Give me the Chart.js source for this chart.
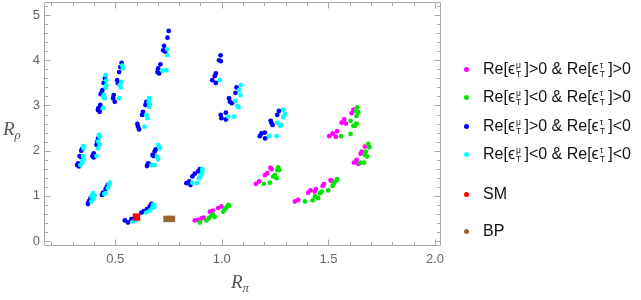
<!DOCTYPE html>
<html><head><meta charset="utf-8">
<script src="https://cdn.jsdelivr.net/npm/chart.js@4.4.1/dist/chart.umd.min.js"></script>
<style>
html,body{margin:0;padding:0;background:#fff;}
#wrap{position:relative;width:641px;height:300px;overflow:hidden;background:#fff;}
#c{position:absolute;left:0;top:0;}
.title{position:absolute;font-family:'Liberation Serif','Times New Roman',serif;font-style:italic;font-size:19px;color:#555;line-height:19px;white-space:nowrap;}
.title .s{font-size:13px;position:relative;top:4px;}
.legend{position:absolute;left:0;top:0;font-family:'Liberation Sans',Arial,sans-serif;font-size:16px;color:#111;}
.row{position:absolute;left:464px;height:20px;line-height:20px;white-space:nowrap;}
.dot{position:absolute;left:0;top:7.5px;width:5px;height:5px;border-radius:50%;}
.txt{position:absolute;left:19px;top:0;}
.ss{display:inline-block;position:relative;width:9.5px;height:20px;vertical-align:top;}
.ss .u{position:absolute;left:1px;top:2px;font-size:8.5px;line-height:8px;}
.ss .d{position:absolute;left:1px;top:11px;font-size:8.5px;line-height:8px;}
</style></head>
<body>
<div id="wrap">
<canvas id="c" width="641" height="300"></canvas>
<div class="title" style="left:231px;top:272px;">R<span class="s">π</span></div>
<div class="title" style="left:3px;top:119px;">R<span class="s">ρ</span></div>
<div class="legend" id="legend"></div>
</div>
<script>
// ---- data ----
const xTicks = [0.5, 1.0, 1.5, 2.0];
const yTicks = [0, 1, 2, 3, 4, 5];
const xRange = [0.166, 2.028];
const yRange = [-0.11, 5.29];

const magentaPts = [
[0.873,0.455],[0.889,0.47],[0.905,0.50],[0.915,0.515],[0.944,0.65],[0.959,0.675],[0.983,0.73],[0.998,0.765],
[1.160,1.265],[1.175,1.32],[1.202,1.46],[1.213,1.50],[1.233,1.59],[1.228,1.62],
[1.343,0.875],[1.358,0.91],[1.405,1.07],[1.416,1.12],[1.436,1.095],[1.441,1.15],[1.473,1.22],[1.479,1.26],[1.510,1.35],[1.515,1.33],
[1.504,2.32],[1.520,2.38],[1.535,2.31],[1.541,2.43],[1.562,2.62],[1.574,2.69],[1.582,2.60],[1.609,2.83],[1.617,2.91],
[1.620,1.735],[1.632,1.795],[1.640,1.71],[1.651,1.93],[1.656,1.98],[1.671,2.09]
];
const greenPts = [
[0.897,0.41],[0.928,0.455],[0.940,0.51],[0.952,0.56],[0.959,0.58],[0.967,0.53],[1.006,0.65],[1.014,0.705],[1.022,0.75],[1.030,0.80],[1.034,0.78],
[1.197,1.265],[1.225,1.29],[1.241,1.43],[1.249,1.46],[1.257,1.39],[1.260,1.57],[1.264,1.63],[1.270,1.57],
[1.390,0.875],[1.426,0.90],[1.437,0.985],[1.452,0.95],[1.460,1.06],[1.468,1.095],[1.499,1.12],[1.520,1.22],[1.526,1.28],[1.538,1.34],[1.541,1.37],
[1.559,2.32],[1.604,2.66],[1.604,2.37],[1.617,2.55],[1.625,2.55],[1.632,2.60],[1.629,2.88],[1.635,2.96],[1.640,2.85],[1.632,2.77],
[1.651,1.735],[1.667,1.735],[1.671,1.905],[1.682,1.87],[1.676,1.98],[1.687,2.15],[1.692,2.075]
];
const bluePts = [
[0.321,1.68],[0.330,1.65],[0.326,1.72],[0.333,1.88],[0.341,1.85],[0.341,2.00],[0.345,2.04],
[0.372,0.82],[0.377,0.88],[0.384,0.95],[0.392,1.00],
[0.399,1.94],[0.393,1.88],[0.399,1.85],[0.412,2.13],[0.416,2.20],[0.420,2.27],
[0.419,2.90],[0.427,2.86],[0.421,2.94],[0.430,3.01],[0.432,3.25],[0.440,3.34],[0.437,3.29],[0.446,3.50],[0.452,3.60],
[0.438,1.02],[0.443,1.07],[0.455,1.15],[0.461,1.20],[0.466,1.24],
[0.490,3.16],[0.498,3.08],[0.493,3.23],[0.509,3.56],[0.513,3.49],[0.518,3.74],[0.524,3.85],[0.530,3.94],
[0.545,0.455],[0.560,0.41],[0.576,0.485],[0.590,0.50],[0.623,0.63],[0.634,0.66],[0.649,0.705],[0.662,0.765],[0.670,0.82],
[0.607,2.53],[0.612,2.47],[0.604,2.59],[0.626,2.79],[0.630,2.86],[0.642,3.01],[0.646,3.08],
[0.654,1.72],[0.649,1.66],[0.660,1.70],[0.675,1.905],[0.680,1.88],[0.685,1.98],[0.690,2.03],
[0.698,3.74],[0.706,3.71],[0.701,3.82],[0.712,3.91],[0.725,4.22],[0.729,4.32],[0.735,4.19],[0.745,4.50],[0.751,4.65],
[0.834,1.28],[0.847,1.32],[0.853,1.24],[0.862,1.43],[0.873,1.49],[0.889,1.54],[0.897,1.59],
[0.955,3.56],[0.967,3.65],[0.972,3.71],[0.972,3.50],[0.987,4.00],[0.995,3.98],[0.994,4.11],
[0.995,2.79],[0.998,2.72],[1.019,2.84],[1.019,2.69],[1.038,3.08],[1.034,3.16],[1.047,3.05],[1.064,3.28],[1.069,3.40],
[1.178,2.32],[1.186,2.38],[1.202,2.40],[1.203,2.27],[1.229,2.66],[1.238,2.57],[1.233,2.61],[1.260,2.79],[1.268,2.88]
];
const cyanPts = [
[0.349,2.10],[0.352,2.05],[0.349,1.88],[0.352,1.81],[0.346,1.78],[0.337,1.68],[0.345,1.72],
[0.388,0.985],[0.396,1.06],[0.399,0.93],[0.388,0.875],[0.402,1.01],
[0.424,2.35],[0.427,2.30],[0.427,2.13],[0.419,2.05],[0.412,1.88],[0.420,2.20],
[0.443,2.94],[0.443,3.19],[0.451,3.16],[0.455,3.67],[0.458,3.45],[0.455,3.40],[0.447,3.24],[0.458,3.55],
[0.474,1.29],[0.471,1.25],[0.466,1.17],[0.455,1.06],[0.449,1.04],
[0.518,3.16],[0.521,3.45],[0.529,3.52],[0.537,3.82],[0.526,3.40],[0.533,3.88],
[0.584,0.43],[0.600,0.47],[0.677,0.80],[0.674,0.73],[0.662,0.675],[0.646,0.63],[0.681,0.75],[0.683,0.79],
[0.638,2.53],[0.646,2.79],[0.651,2.72],[0.657,3.08],[0.659,2.97],[0.659,3.16],[0.663,3.02],
[0.701,2.13],[0.709,2.05],[0.696,1.87],[0.701,1.81],[0.670,1.68],[0.685,1.68],[0.706,2.09],
[0.722,3.77],[0.740,3.78],[0.745,4.24],[0.745,4.11],
[0.862,1.29],[0.884,1.28],[0.893,1.39],[0.900,1.43],[0.909,1.54],[0.909,1.59],[0.906,1.49],
[0.991,3.56],
[1.030,2.75],[1.058,2.75],[1.064,3.10],[1.073,2.99],[1.079,2.96],[1.081,3.34],[1.088,3.23],[1.089,3.45],
[1.222,2.32],[1.257,2.32],[1.261,2.62],[1.272,2.55],[1.280,2.57],[1.288,2.91],[1.296,2.81],[1.288,2.74]
];
const smPts = [[0.600, 0.53]];
const bpPts = [[0.741, 0.49], [0.7535, 0.49], [0.766, 0.49]];

const legendItems = [
  {color:'#ff00ff', s1:'>0', s2:'>0'},
  {color:'#00e600', s1:'<0', s2:'>0'},
  {color:'#0000ff', s1:'>0', s2:'<0'},
  {color:'#00ffff', s1:'<0', s2:'<0'}
];

// ---- legend (HTML text) ----
const lg = document.getElementById('legend');
const rowY = [69, 97, 126, 154];
legendItems.forEach((it, i) => {
  const r = document.createElement('div');
  r.className = 'row'; r.style.top = (rowY[i] - 10) + 'px';
  r.innerHTML = '<span class="dot" style="background:' + it.color + '"></span>' +
    '<span class="txt">Re[ϵ<span class="ss"><span class="u">μ</span><span class="d">T</span></span>]' + it.s1 +
    ' &amp; Re[ϵ<span class="ss"><span class="u">τ</span><span class="d">T</span></span>]' + it.s2 + '</span>';
  lg.appendChild(r);
});
[['SM','#ff0000',194],['BP','#996633',231]].forEach(([t,c,y]) => {
  const r = document.createElement('div');
  r.className = 'row'; r.style.top = (y - 10) + 'px';
  r.innerHTML = '<span class="dot" style="background:' + c + '"></span><span class="txt">' + t + '</span>';
  lg.appendChild(r);
});

// ---- frame / tick marks plugin ----
const framePlugin = {
  id: 'frame',
  beforeDatasetsDraw(chart) {
    const {ctx, chartArea: a, scales: {x, y}} = chart;
    const L = Math.round(a.left) + 0.5, R = Math.round(a.right) - 0.5;
    const T = Math.round(a.top) + 0.5, B = Math.round(a.bottom) - 0.5;
    ctx.save();
    ctx.strokeStyle = '#a9a9a9';
    ctx.lineWidth = 1;
    ctx.beginPath();
    ctx.rect(L, T, R - L, B - T);
    ctx.stroke();
    ctx.beginPath();
    for (let i = 2; i <= 20; i++) {
      const v = i / 10;
      const major = (i % 5 === 0);
      const len = major ? 6 : 3.5;
      const px = Math.round(x.getPixelForValue(v)) + 0.5;
      ctx.moveTo(px, B); ctx.lineTo(px, B - len);
      ctx.moveTo(px, T); ctx.lineTo(px, T + len);
    }
    for (let i = 0; i <= 26; i++) {
      const v = i / 5;
      const major = (i % 5 === 0);
      const len = major ? 6 : 3.5;
      const py = Math.round(y.getPixelForValue(v)) + 0.5;
      ctx.moveTo(L, py); ctx.lineTo(L + len, py);
      ctx.moveTo(R, py); ctx.lineTo(R - len, py);
    }
    ctx.stroke();
    ctx.restore();
  }
};

const toXY = arr => arr.map(p => ({x: p[0], y: p[1]}));
const ds = (label, pts, color, extra) => Object.assign({
  label, data: toXY(pts), backgroundColor: color, borderColor: color,
  borderWidth: 0, pointRadius: 2.4, pointHoverRadius: 2.4, pointStyle: 'circle'
}, extra || {});

const tickFont = {family: "'Liberation Sans', Arial, sans-serif", size: 13};
const zeroPad = s => { s.paddingTop = 0; s.paddingBottom = 0; s.paddingLeft = 0; s.paddingRight = 0; };

new Chart(document.getElementById('c'), {
  type: 'scatter',
  data: {
    datasets: [
      ds('SM', smPts, '#ff0000', {pointStyle: 'rect', pointRadius: 5.2, pointHoverRadius: 5.2}),
      ds('BP', bpPts, '#996633', {pointStyle: 'rect', pointRadius: [4.6, 3.2, 4.6], pointHoverRadius: [4.6, 3.2, 4.6]}),
      ds('cyan', cyanPts, '#00ffff'),
      ds('blue', bluePts, '#0000ff'),
      ds('green', greenPts, '#00e600'),
      ds('magenta', magentaPts, '#ff00ff')
    ]
  },
  options: {
    responsive: false,
    animation: false,
    events: [],
    layout: {autoPadding: false, padding: {left: 0, top: 2, right: 200, bottom: 0}},
    plugins: {legend: {display: false}, tooltip: {enabled: false}},
    scales: {
      x: {
        type: 'linear', min: xRange[0], max: xRange[1],
        afterBuildTicks: s => { s.ticks = xTicks.map(v => ({value: v})); },
        afterFit: s => { s.height = 54; zeroPad(s); },
        grid: {display: false, drawTicks: false}, border: {display: false},
        ticks: {color: '#666', font: tickFont, padding: 6, maxRotation: 0, autoSkip: false,
                callback: v => Number(v).toFixed(1)}
      },
      y: {
        type: 'linear', min: yRange[0], max: yRange[1],
        afterBuildTicks: s => { s.ticks = yTicks.map(v => ({value: v})); },
        afterFit: s => { s.width = 44; zeroPad(s); },
        grid: {display: false, drawTicks: false}, border: {display: false},
        ticks: {color: '#666', font: tickFont, padding: 4, autoSkip: false,
                callback: v => String(v)}
      }
    }
  },
  plugins: [framePlugin]
});
</script>
</body></html>
